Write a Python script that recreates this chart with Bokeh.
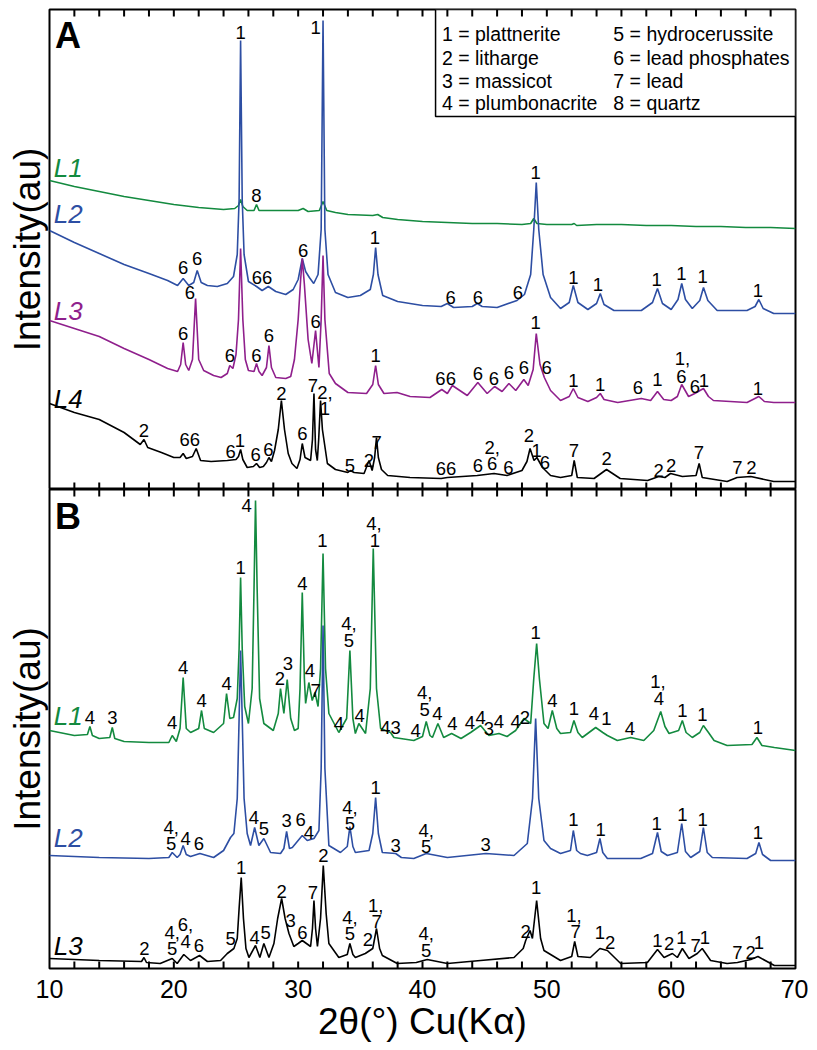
from bokeh.plotting import figure
from bokeh.layouts import column
from bokeh.models import (ColumnDataSource, FixedTicker, LinearAxis, Range1d,
                          BoxAnnotation, Grid)
from bokeh.core.properties import value
from bokeh.embed import file_html
from bokeh.resources import INLINE

FONT = "Liberation Sans"
GREEN = "#138a3f"
BLUE = "#2d4ea3"
PURPLE = "#8f1f8c"
BLACK = "#000000"
TICK_COLOR = "black"

# ---------------- data: (2theta, intensity au) ----------------
A_L1 = [(10,309),(12,303),(14,298),(16,293),(18,289),(20,285),(22,282),(24,280),(24.9,281),(25.2,284),(25.37,290),(25.55,283),(25.9,279),(26.45,279),(26.65,285),(26.85,279),(28,279),(30,279),(30.4,281),(30.8,278),(31.7,279),(32.0,288),(32.3,279),(33,277),(34,275),(36,274),(36.4,275),(36.8,272),(38,270),(40,268),(42,267),(44,266),(46,266),(48,265),(48.7,266),(48.95,271),(49.2,266),(50,265),(52,265),(52.2,266),(52.4,264),(54,265),(56,265),(58,264),(60,264),(62,263),(64,263),(66,262),(68,262),(70,261)]

A_L2 = [(10,259),(12,247),(14,236),(16,225),(18,216),(19.5,209),(20.3,204),(20.75,211),(21.2,204),(21.6,207),(21.88,219),(22.2,207),(22.7,204),(23.5,203),(24.3,206),(24.8,213),(25.1,235),(25.25,290),(25.37,449),(25.5,290),(25.65,235),(26.0,208),(26.65,203),(27.1,199),(27.6,203),(28.2,198),(29.0,195),(29.6,200),(30.0,210),(30.33,231),(30.6,218),(30.9,212),(31.25,206),(31.6,215),(31.85,260),(32.0,469),(32.15,260),(32.4,215),(33.0,197),(34.0,192),(35.0,194),(35.8,200),(36.05,215),(36.23,242),(36.42,215),(36.8,194),(38,188),(40,184),(41.5,183),(42.0,186),(42.5,182),(44.0,183),(44.4,186),(44.8,183),(46,182),(47.6,189),(48.2,195),(48.7,215),(48.95,260),(49.15,307),(49.35,260),(49.7,215),(50.3,192),(51.1,181),(51.8,187),(52.13,204),(52.5,187),(53.3,180),(54.0,186),(54.3,196),(54.6,185),(55.4,179),(57.6,179),(58.5,187),(58.9,201),(59.3,186),(60.0,180),(60.55,190),(60.85,206),(61.15,190),(61.7,181),(62.3,189),(62.6,202),(62.95,189),(63.7,179),(66.1,179),(66.75,183),(67.05,190),(67.4,181),(68.25,176),(70,176)]

A_L3 = [(10,169),(12,161),(14,153),(16,141),(18,130),(19.5,121),(20.3,118),(20.55,125),(20.75,147),(20.95,125),(21.2,119),(21.5,130),(21.75,191),(22.0,130),(22.4,119),(23.2,114),(23.8,112),(24.3,116),(24.5,124),(24.75,121),(25.0,135),(25.2,170),(25.37,241),(25.55,170),(25.75,130),(26.0,119),(26.45,118),(26.65,126),(26.85,118),(27.1,114),(27.45,122),(27.65,144),(27.85,122),(28.2,112),(29.0,111),(29.4,113),(29.7,130),(30.0,170),(30.2,210),(30.33,231),(30.5,205),(30.8,150),(31.1,126),(31.4,159),(31.67,122),(31.85,170),(32.0,234),(32.15,170),(32.5,116),(33.0,106),(34.0,97),(35.5,96),(36.0,105),(36.23,124),(36.45,105),(36.9,96),(37.95,97),(39,93),(40.6,92),(41.55,100),(42.0,96),(42.4,104),(43.6,94),(44.45,107),(45.2,96),(45.8,103),(46.4,98),(46.95,106),(47.5,99),(48.15,110),(48.5,104),(48.9,120),(49.15,156),(49.45,125),(49.8,112),(50.3,99),(51.1,89),(51.8,93),(52.13,101),(52.5,92),(53.3,88),(54.0,92),(54.3,96),(54.6,90),(55.7,87),(57.6,91),(58.35,89),(58.9,98),(59.4,90),(60.0,89),(60.5,93),(60.85,105),(61.4,93),(61.9,96),(62.6,101),(63.0,93),(63.4,89),(66.1,87),(67.05,93),(67.5,88),(68.25,87),(70,87)]

A_L4 = [(10,86),(12,77),(14,70),(16,57),(17.3,45),(17.6,50),(17.9,42),(19,37),(20.0,32),(20.5,32),(20.75,36),(21.0,31),(21.5,33),(21.8,41),(22.15,29),(23,28),(24.3,29),(25.0,30),(25.2,33),(25.37,40),(25.55,30),(25.9,22),(26.4,23),(26.65,26),(26.9,22),(27.2,23),(27.45,27),(27.65,32),(27.85,28),(28.1,39),(28.4,60),(28.65,89),(28.9,60),(29.2,36),(29.5,26),(29.9,21),(30.15,30),(30.33,46),(30.55,32),(31.0,29),(31.15,50),(31.27,96),(31.4,40),(31.54,29),(31.65,50),(31.8,89),(31.95,60),(32.35,26),(33.0,20),(34.0,17),(34.2,19),(34.5,17),(35.3,16),(35.7,29),(35.95,19),(36.15,32),(36.3,52),(36.45,32),(36.7,20),(37.2,14),(39,12),(41.5,11),(42,12),(44.4,14),(45.75,16),(46.8,14),(48.0,19),(48.4,28),(48.65,41),(48.97,29),(49.2,32),(49.65,22),(50.3,14),(51.1,12),(52.0,14),(52.2,29),(52.45,12),(53.8,11),(54.8,20),(55.9,11),(58.1,9),(59.0,13),(59.5,12),(59.95,16),(60.9,13),(62.0,14),(62.25,26),(62.5,12),(64.5,8),(65.3,12),(66.4,13),(68.25,8),(70,8)]

B_L1 = [(10,238),(12,233),(13.05,234),(13.25,242),(13.45,233),(14,230),(14.85,231),(15.05,241),(15.25,230),(16,227),(18,226),(19.6,226),(19.87,233),(20.2,227),(20.5,240),(20.75,291),(21.0,240),(21.35,236),(22.0,240),(22.23,258),(22.45,240),(23.2,236),(24.0,245),(24.24,275),(24.5,250),(24.8,251),(25.1,270),(25.25,320),(25.37,391),(25.5,320),(25.7,262),(26.0,245),(26.3,280),(26.45,380),(26.57,468),(26.7,380),(26.9,270),(27.24,245),(28.0,238),(28.4,255),(28.58,280),(28.85,255),(29.12,289),(29.4,250),(29.7,238),(30.0,240),(30.15,280),(30.33,376),(30.5,290),(30.6,265),(30.86,286),(31.13,268),(31.35,276),(31.6,262),(31.8,300),(32.0,415),(32.2,300),(32.47,255),(33.27,236),(33.9,250),(34.16,318),(34.4,250),(34.6,235),(34.88,245),(35.42,235),(35.8,280),(36.04,420),(36.3,280),(36.63,240),(37.43,236),(37.7,231),(39.3,228),(40.0,232),(40.3,247),(40.6,233),(40.8,231),(41.24,245),(41.7,231),(42.34,235),(43.1,230),(43.87,236),(44.67,243),(45.34,233),(46.15,235),(46.8,232),(47.49,238),(48.16,250),(48.7,245),(48.95,290),(49.18,325),(49.4,290),(49.77,245),(50.1,240),(50.44,258),(50.8,240),(51.1,235),(51.9,236),(52.18,248),(52.5,236),(52.85,231),(53.93,241),(54.5,236),(54.87,233),(55.67,228),(56.74,231),(57.8,228),(58.6,238),(59.16,257),(59.5,242),(59.83,235),(60.6,238),(60.9,248),(61.2,236),(61.7,231),(62.3,236),(62.59,243),(63.0,236),(63.45,228),(64.5,223),(66.5,224),(66.9,231),(67.3,223),(68.3,221),(70,218)]

B_L2 = [(10,113),(14,111),(18,110),(19.6,111),(19.87,116),(20.27,111),(20.5,114),(20.75,123),(21.0,114),(21.34,112),(22.1,115),(23.2,111),(24.0,118),(24.56,131),(24.83,135),(25.1,170),(25.25,250),(25.37,318),(25.5,250),(25.65,170),(25.9,135),(26.17,123),(26.5,141),(26.84,123),(27.24,130),(27.78,116),(28.58,115),(28.85,120),(29.07,137),(29.3,120),(29.53,121),(30.33,133),(30.73,128),(31.27,130),(31.67,138),(31.85,200),(32.0,343),(32.15,200),(32.47,123),(33.4,116),(33.95,122),(34.16,142),(34.4,122),(34.6,116),(35.7,118),(36.0,135),(36.23,171),(36.45,135),(36.77,116),(37.84,115),(38.3,111),(39.3,110),(40.3,115),(42.0,111),(45.1,115),(47.36,113),(48.43,125),(48.85,170),(49.1,250),(49.35,170),(49.77,128),(50.3,120),(51.1,115),(51.9,118),(52.13,138),(52.4,118),(52.7,115),(53.26,113),(54.0,116),(54.27,130),(54.5,116),(54.87,110),(57.55,110),(58.5,115),(58.9,136),(59.2,117),(59.7,113),(60.5,116),(60.85,145),(61.15,117),(61.57,111),(62.3,117),(62.59,141),(62.9,116),(63.31,111),(66.1,110),(66.8,115),(67.06,126),(67.35,114),(68.0,108),(70,108)]

B_L3 = [(10,10),(14,8),(17.4,7),(17.6,11),(17.8,6),(18.9,5),(19.87,10),(20.27,5),(20.8,14),(21.34,8),(22.07,13),(22.7,7),(23.76,8),(24.3,15),(24.83,20),(25.1,30),(25.25,60),(25.42,91),(25.6,50),(25.8,20),(26.04,11),(26.57,23),(26.92,11),(27.24,25),(27.65,11),(28.05,25),(28.35,50),(28.67,70),(28.95,50),(29.26,35),(29.65,22),(30.0,25),(30.33,28),(31.0,22),(31.15,40),(31.27,68),(31.4,40),(31.55,22),(31.8,50),(32.02,103),(32.25,55),(32.47,25),(33.27,11),(33.95,14),(34.16,25),(34.4,14),(34.6,11),(35.4,15),(35.76,18),(36.0,20),(36.3,40),(36.55,20),(36.77,13),(37.97,5),(39.5,6),(40.38,9),(42.0,5),(44.67,8),(47.36,11),(48.1,20),(48.3,28),(48.65,38),(48.84,30),(49.18,68),(49.5,30),(49.77,18),(51.1,8),(52.0,12),(52.24,27),(52.5,12),(53.5,11),(54.27,20),(54.87,18),(55.94,5),(58.09,6),(58.9,19),(59.43,11),(60.1,15),(60.5,11),(60.9,20),(61.43,10),(62.1,15),(62.5,20),(63.17,8),(64.5,5),(65.33,6),(66.4,9),(66.98,12),(68.3,3),(70,3)]

# ---------------- peak labels (x, y, text) ----------------
A_LABELS = [
    (25.37,457,"1"),(31.4,462,"1"),(26.65,294,"8"),(36.17,252,"1"),(49.1,317,"1"),
    (20.75,222,"6"),(21.88,231,"6"),(27.1,212,"66"),(30.4,239,"6"),(42.26,192,"6"),
    (44.46,192,"6"),(47.67,197,"6"),(52.13,212,"1"),(54.1,205,"1"),(58.83,210,"1"),
    (60.82,216,"1"),(62.53,213,"1"),(66.98,199,"1"),
    (20.75,156,"6"),(21.29,197,"6"),(24.5,134,"6"),(26.65,134,"6"),(27.65,154,"6"),
    (31.4,168,"6"),(36.23,134,"1"),(41.86,111,"66"),(44.46,116,"6"),(45.75,111,"6"),
    (46.95,117,"6"),(48.15,122,"6"),(49.1,167,"1"),(49.98,122,"6"),(52.13,109,"1"),
    (54.28,105,"1"),(57.33,102,"6"),(58.89,110,"1"),(60.9,131,"1,"),(60.82,113,"6"),
    (61.9,103,"6"),(62.64,109,"1"),(66.98,101,"1"),
    (17.59,59,"2"),(21.29,50,"66"),(24.56,38,"6"),(25.31,49,"1"),(26.57,35,"6"),
    (27.6,40,"6"),(28.65,96,"2"),(30.33,56,"6"),(31.18,104,"7"),(32.15,97,"2,"),
    (32.15,81,"1"),(34.16,24,"5"),(35.69,29,"2"),(36.31,47,"7"),(41.9,21,"66"),
    (44.46,24,"6"),(45.6,42,"2,"),(45.6,26,"6"),(46.9,22,"6"),(48.56,54,"2"),
    (49.18,39,"1"),(49.85,27,"6"),(52.18,39,"7"),(54.81,31,"2"),(59.0,19,"2"),
    (60.0,24,"2"),(62.24,37,"7"),(65.33,22,"7"),(66.45,22,"2"),
]

B_LABELS = [
    (13.25,251,"4"),(15.05,251,"3"),(19.87,246,"4"),(20.75,301,"4"),(22.23,268,"4"),
    (24.24,285,"4"),(25.37,401,"1"),(25.85,463,"4"),(28.53,290,"2"),(29.17,305,"3"),
    (30.33,385,"4"),(30.95,298,"4"),(31.4,278,"7"),(31.95,428,"1"),(34.08,345,"4,"),
    (34.08,328,"5"),(34.94,253,"4"),(36.09,445,"4,"),(36.17,428,"1"),(33.27,245,"4"),
    (37.43,241,"43"),(39.45,238,"4"),(40.17,276,"4,"),(40.17,259,"5"),(41.19,255,"4"),
    (42.4,245,"4"),(43.81,246,"4"),(44.67,251,"4"),(45.34,240,"3"),(46.15,247,"4"),
    (47.49,247,"4"),(48.24,251,"2"),(49.1,336,"1"),(50.44,268,"4"),(52.18,260,"1"),
    (53.79,255,"4"),(54.79,250,"1"),(56.69,240,"4"),(58.94,287,"1,"),(59.02,270,"4"),
    (60.9,258,"1"),(62.51,254,"1"),(66.98,241,"1"),
    (19.79,141,"4,"),(19.79,125,"5"),(20.94,130,"4"),(22.01,125,"6"),(26.43,151,"4"),
    (27.24,140,"5"),(29.07,148,"3"),(30.19,149,"6"),(30.86,136,"4"),(34.16,161,"4,"),
    (34.16,145,"5"),(36.23,181,"1"),(37.84,123,"3"),(40.3,138,"4,"),(40.3,122,"5"),
    (45.08,124,"3"),(52.13,149,"1"),(54.33,139,"1"),(58.83,145,"1"),(60.9,154,"1"),
    (62.53,149,"1"),(66.98,136,"1"),
    (17.64,20,"2"),(19.87,36,"4,"),(19.87,20,"5"),(20.94,44,"6,"),(20.94,27,"4"),
    (22.01,23,"6"),(24.56,30,"5"),(25.42,101,"1"),(26.49,31,"4"),(27.38,36,"5"),
    (28.67,77,"2"),(29.4,48,"3"),(30.33,36,"6"),(31.18,76,"7"),(32.02,113,"2"),
    (34.16,51,"4,"),(34.16,35,"5"),(35.6,29,"2"),(36.23,63,"1,"),(36.31,47,"7"),
    (40.3,35,"4,"),(40.3,18,"5"),(48.3,37,"2"),(49.15,81,"1"),(52.18,53,"1,"),
    (52.31,37,"7"),(54.27,36,"1"),(55.1,26,"2"),(58.9,28,"1"),(59.83,25,"2"),
    (60.82,31,"1"),(61.97,23,"7"),(62.72,31,"1"),(65.33,16,"7"),(66.4,16,"2"),
    (67.06,26,"1"),
]

# sample names: (text, y, colour)
A_NAMES = [("L1",322,GREEN),("L2",276,BLUE),("L3",179,PURPLE),("L4",91,BLACK)]
B_NAMES = [("L1",253,GREEN),("L2",131,BLUE),("L3",23,BLACK)]
NAME_X = 10.35

LEGEND_COL1 = ["1 = plattnerite", "2 = litharge", "3 = massicot", "4 = plumbonacrite"]
LEGEND_COL2 = ["5 = hydrocerussite", "6 = lead phosphates", "7 = lead", "8 = quartz"]
LEGEND_ROWS_Y = [456, 432, 409, 387]
LEGEND_X = [41.56, 55.35]
LEGEND_BOX = dict(left=41.05, right=70, bottom=373, top=480)

X_MIN, X_MAX = 10, 70
MAJOR_TICKS = list(range(X_MIN, X_MAX + 1, 10))
ALL_TICKS = list(range(X_MIN + 2, X_MAX, 2))
TICK_LEN = 7   # pixels (1 intensity unit == 1 pixel in both panels)


def add_inner_ticks(p, ymax):
    # tick marks pointing into the frame from the top and bottom edges
    n = len(ALL_TICKS)
    src = ColumnDataSource(dict(
        x0=ALL_TICKS + ALL_TICKS,
        y0=[ymax] * n + [0] * n,
        y1=[ymax - TICK_LEN] * n + [TICK_LEN] * n,
    ))
    p.segment(x0="x0", y0="y0", x1="x0", y1="y1", source=src,
              line_color=TICK_COLOR, line_width=2)


def make_panel(frame_h, ymax, border_top, border_bottom):
    p = figure(frame_width=746, frame_height=frame_h,
               x_range=Range1d(X_MIN, X_MAX), y_range=Range1d(0, ymax),
               output_backend="svg", toolbar_location=None,
               x_axis_location=None, y_axis_location=None,
               min_border_left=49, min_border_right=13,
               min_border_top=border_top, min_border_bottom=border_bottom)
    p.center = [c for c in p.center if not isinstance(c, Grid)]
    p.outline_line_color = "black"
    p.outline_line_width = 2
    p.outline_line_alpha = 1.0
    p.background_fill_color = "white"
    p.border_fill_color = "white"
    ya = LinearAxis(ticker=FixedTicker(ticks=[]), axis_label="Intensity(au)")
    ya.axis_line_color = None
    ya.major_tick_in = 0
    ya.major_tick_out = 0
    ya.minor_tick_in = 0
    ya.minor_tick_out = 0
    ya.major_label_standoff = 0
    ya.axis_label_standoff = 2
    ya.axis_label_text_font = FONT
    ya.axis_label_text_font_size = "37px"
    ya.axis_label_text_font_style = "normal"
    ya.axis_label_text_color = "black"
    p.add_layout(ya, "left")
    return p


def draw_trace(p, data, color):
    xs = [d[0] for d in data]
    ys = [d[1] for d in data]
    p.line(xs, ys, line_color=color, line_width=1.6)


def draw_labels(p, labels):
    src = ColumnDataSource(dict(x=[l[0] for l in labels], y=[l[1] for l in labels],
                                t=[l[2] for l in labels]))
    p.text(x="x", y="y", text="t", source=src, text_font=value(FONT),
           text_font_size="18.5px", text_align="center", text_baseline="middle",
           text_color="black")


def draw_names(p, names):
    src = ColumnDataSource(dict(x=[NAME_X] * len(names), y=[n[1] for n in names],
                                t=[n[0] for n in names], c=[n[2] for n in names]))
    p.text(x="x", y="y", text="t", source=src, text_font=value(FONT),
           text_font_size="26px", text_font_style="italic", text_align="left",
           text_baseline="middle", text_color="c")


# ---------------- panel A ----------------
pA = make_panel(480, 480, 9, 0)
pA.add_layout(BoxAnnotation(fill_color="white", fill_alpha=1.0, line_color="black",
                            line_alpha=1.0, line_width=1.5, level="underlay", **LEGEND_BOX))
for data, col in [(A_L1, GREEN), (A_L2, BLUE), (A_L3, PURPLE), (A_L4, BLACK)]:
    draw_trace(pA, data, col)
draw_labels(pA, A_LABELS)
draw_names(pA, A_NAMES)
leg_x, leg_y, leg_t = [], [], []
for col_i, items in enumerate([LEGEND_COL1, LEGEND_COL2]):
    for row_i, txt in enumerate(items):
        leg_x.append(LEGEND_X[col_i])
        leg_y.append(LEGEND_ROWS_Y[row_i])
        leg_t.append(txt)
pA.text(x=leg_x, y=leg_y, text=leg_t, text_font=value(FONT), text_font_size="19.5px",
        text_align="left", text_baseline="middle", text_color="black")
pA.text(x=[11.49], y=[454], text=["A"], text_font=value(FONT), text_font_size="36px",
        text_font_style="bold", text_align="center", text_baseline="middle", text_color="black")
add_inner_ticks(pA, 480)

# ---------------- panel B ----------------
pB = make_panel(479, 479, 0, 40)
xb = LinearAxis(ticker=FixedTicker(ticks=MAJOR_TICKS))
xb.axis_line_color = None
xb.major_tick_in = 0
xb.major_tick_out = 0
xb.minor_tick_in = 0
xb.minor_tick_out = 0
xb.major_label_text_font = FONT
xb.major_label_text_font_size = "25px"
xb.major_label_text_color = "black"
xb.major_label_standoff = 11
xb.axis_label = "2\u03b8(\u00b0) Cu(K\u03b1)"
xb.axis_label_text_font = FONT
xb.axis_label_text_font_size = "37px"
xb.axis_label_text_font_style = "normal"
xb.axis_label_text_color = "black"
xb.axis_label_standoff = 0
pB.add_layout(xb, "below")
for data, col in [(B_L1, GREEN), (B_L2, BLUE), (B_L3, BLACK)]:
    draw_trace(pB, data, col)
draw_labels(pB, B_LABELS)
draw_names(pB, B_NAMES)
pB.text(x=[11.49], y=[452], text=["B"], text_font=value(FONT), text_font_size="36px",
        text_font_style="bold", text_align="center", text_baseline="middle", text_color="black")
add_inner_ticks(pB, 479)

layout = column(pA, pB, spacing=0)
open("out.html", "w").write(file_html(layout, INLINE))
